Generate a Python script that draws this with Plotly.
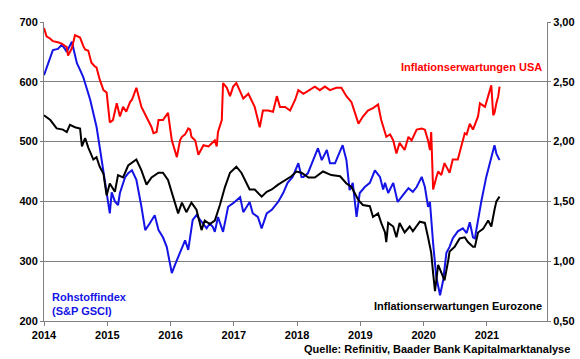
import plotly.graph_objects as go

# ---- data (decimal years) ----
blue_t = [2014.00, 2014.05, 2014.14, 2014.22, 2014.28, 2014.33, 2014.36, 2014.44, 2014.52, 2014.57,
          2014.62, 2014.73, 2014.83, 2014.88, 2014.94, 2014.99, 2015.04, 2015.07, 2015.12, 2015.17,
          2015.20, 2015.28, 2015.33, 2015.39, 2015.46, 2015.54, 2015.60, 2015.67, 2015.75, 2015.81,
          2015.88, 2015.94, 2016.02, 2016.07, 2016.15, 2016.23, 2016.28, 2016.35, 2016.41, 2016.52,
          2016.57, 2016.62, 2016.67, 2016.70, 2016.75, 2016.83, 2016.91, 2016.99, 2017.10, 2017.15,
          2017.25, 2017.30, 2017.38, 2017.44, 2017.52, 2017.60, 2017.70, 2017.78, 2017.85, 2017.93,
          2018.02, 2018.07, 2018.10, 2018.17, 2018.25, 2018.33, 2018.39, 2018.47, 2018.52, 2018.60,
          2018.64, 2018.72, 2018.78, 2018.83, 2018.88, 2018.94, 2018.99, 2019.07, 2019.15, 2019.23,
          2019.31, 2019.36, 2019.39, 2019.44, 2019.52, 2019.59, 2019.67, 2019.76, 2019.83, 2019.89,
          2019.97, 2020.02, 2020.07, 2020.10, 2020.15, 2020.18, 2020.20, 2020.26, 2020.31, 2020.36,
          2020.41, 2020.46, 2020.54, 2020.62, 2020.68, 2020.73, 2020.78, 2020.81, 2020.86, 2020.91,
          2020.99, 2021.05, 2021.12, 2021.15, 2021.18, 2021.20]
blue_v = [611, 625, 653, 655, 662, 655, 650, 667, 631, 620,
          608, 570, 525, 491, 447, 414, 380, 415, 400, 394,
          414, 440, 447, 452, 436, 391, 352, 363, 377, 352,
          340, 324, 280, 294, 314, 335, 319, 369, 377, 363,
          355, 363, 357, 349, 374, 349, 391, 397, 407, 382,
          399, 380, 374, 355, 380, 386, 399, 414, 431, 441,
          464, 441, 441, 447, 469, 489, 469, 486, 464, 464,
          474, 494, 469, 419, 431, 374, 414, 424, 431, 452,
          441, 420, 431, 414, 431, 399, 410, 422, 416, 424,
          441, 424, 391, 399, 330, 302, 274, 243, 269, 314,
          324, 338, 350, 355, 347, 365, 340, 338, 369, 399,
          441, 464, 494, 480, 474, 469]

usa_t = [2014.00, 2014.04, 2014.10, 2014.14, 2014.22, 2014.28, 2014.33, 2014.36, 2014.38, 2014.44,
         2014.49, 2014.54, 2014.57, 2014.62, 2014.65, 2014.70, 2014.75, 2014.80, 2014.83, 2014.88,
         2014.94, 2014.99, 2015.04, 2015.09, 2015.15, 2015.20, 2015.25, 2015.30, 2015.36, 2015.39,
         2015.46, 2015.54, 2015.62, 2015.70, 2015.73, 2015.78, 2015.81, 2015.88, 2015.96, 2016.02,
         2016.10, 2016.15, 2016.18, 2016.23, 2016.28, 2016.31, 2016.33, 2016.39, 2016.44, 2016.52,
         2016.60, 2016.70, 2016.73, 2016.75, 2016.81, 2016.83, 2016.89, 2016.94, 2016.99, 2017.04,
         2017.10, 2017.15, 2017.23, 2017.28, 2017.33, 2017.41, 2017.46, 2017.54, 2017.62, 2017.68,
         2017.73, 2017.81, 2017.89, 2017.97, 2018.02, 2018.10, 2018.20, 2018.28, 2018.36, 2018.44,
         2018.52, 2018.62, 2018.70, 2018.78, 2018.86, 2018.91, 2018.97, 2019.04, 2019.12, 2019.20,
         2019.28, 2019.33, 2019.41, 2019.47, 2019.52, 2019.57, 2019.62, 2019.70, 2019.76, 2019.81,
         2019.89, 2019.97, 2020.02, 2020.07, 2020.10, 2020.12, 2020.15, 2020.20, 2020.23, 2020.28,
         2020.33, 2020.41, 2020.46, 2020.54, 2020.60, 2020.65, 2020.68, 2020.73, 2020.78, 2020.86,
         2020.89, 2020.97, 2021.02, 2021.07, 2021.10, 2021.12, 2021.15, 2021.18, 2021.20]
usa_v = [2.95, 2.88, 2.86, 2.84, 2.83, 2.82, 2.80, 2.79, 2.72, 2.78,
         2.89, 2.88, 2.87, 2.80, 2.77, 2.76, 2.66, 2.63, 2.62, 2.52,
         2.43, 2.41, 2.16, 2.18, 2.32, 2.21, 2.29, 2.25, 2.33, 2.35,
         2.45, 2.29, 2.21, 2.12, 2.07, 2.08, 2.18, 2.18, 2.24, 2.01,
         1.87, 2.01, 2.04, 2.06, 2.11, 2.10, 2.04, 2.01, 1.89, 1.97,
         1.96, 2.01, 1.96, 2.08, 2.18, 2.49, 2.45, 2.38, 2.46, 2.49,
         2.42, 2.36, 2.40, 2.35, 2.29, 2.12, 2.26, 2.26, 2.25, 2.38,
         2.29, 2.29, 2.26, 2.35, 2.43, 2.40, 2.43, 2.46, 2.43, 2.46,
         2.43, 2.45, 2.45, 2.38, 2.33, 2.24, 2.15, 2.21, 2.26, 2.28,
         2.31, 2.18, 2.04, 2.06, 2.01, 1.90, 1.99, 1.93, 2.04, 2.01,
         2.10, 2.11, 2.10, 2.01, 1.93, 2.08, 1.60, 1.70, 1.75, 1.72,
         1.82, 1.74, 1.85, 1.85, 1.96, 2.07, 2.06, 2.15, 2.10, 2.21,
         2.32, 2.29, 2.38, 2.47, 2.22, 2.24, 2.32, 2.38, 2.46]

ez_t = [2014.00, 2014.10, 2014.20, 2014.30, 2014.36, 2014.41, 2014.49, 2014.57, 2014.60, 2014.65,
        2014.70, 2014.78, 2014.83, 2014.88, 2014.94, 2014.99, 2015.04, 2015.07, 2015.12, 2015.17,
        2015.25, 2015.33, 2015.39, 2015.46, 2015.54, 2015.62, 2015.70, 2015.81, 2015.88, 2015.96,
        2016.04, 2016.12, 2016.18, 2016.25, 2016.33, 2016.41, 2016.49, 2016.54, 2016.62, 2016.70,
        2016.78, 2016.86, 2016.94, 2017.04, 2017.12, 2017.20, 2017.25, 2017.33, 2017.44, 2017.52,
        2017.60, 2017.70, 2017.81, 2017.91, 2017.99, 2018.07, 2018.18, 2018.28, 2018.41, 2018.54,
        2018.68, 2018.78, 2018.86, 2018.97, 2019.04, 2019.15, 2019.20, 2019.28, 2019.33, 2019.39,
        2019.41, 2019.44, 2019.52, 2019.57, 2019.62, 2019.70, 2019.78, 2019.83, 2019.94, 2020.02,
        2020.07, 2020.12, 2020.15, 2020.18, 2020.23, 2020.28, 2020.33, 2020.39, 2020.41, 2020.49,
        2020.57, 2020.65, 2020.70, 2020.78, 2020.81, 2020.86, 2020.94, 2021.02, 2021.07, 2021.12,
        2021.15, 2021.20]
ez_v = [2.22, 2.18, 2.11, 2.10, 2.08, 2.14, 2.12, 2.11, 1.96, 2.03,
        1.95, 1.85, 1.87, 1.79, 1.73, 1.55, 1.65, 1.62, 1.58, 1.72,
        1.70, 1.80, 1.82, 1.85, 1.76, 1.64, 1.70, 1.74, 1.74, 1.68,
        1.54, 1.40, 1.49, 1.41, 1.49, 1.43, 1.26, 1.34, 1.31, 1.34,
        1.47, 1.62, 1.74, 1.79, 1.74, 1.65, 1.60, 1.60, 1.54, 1.58,
        1.60, 1.64, 1.68, 1.71, 1.75, 1.74, 1.70, 1.70, 1.75, 1.72,
        1.71, 1.65, 1.62, 1.51, 1.47, 1.46, 1.37, 1.40, 1.32, 1.24,
        1.16, 1.32, 1.29, 1.20, 1.32, 1.24, 1.29, 1.25, 1.33, 1.32,
        1.20, 1.07, 0.90, 0.75, 0.97, 0.90, 0.84, 1.01, 1.08, 1.12,
        1.19, 1.20, 1.16, 1.12, 1.12, 1.24, 1.27, 1.34, 1.29, 1.43,
        1.50, 1.54]

year_ticks = [2014, 2015, 2016, 2017, 2018, 2019, 2020, 2021]
left_ticks = [200, 300, 400, 500, 600, 700]
right_ticks = [0.5, 1.0, 1.5, 2.0, 2.5, 3.0]
right_labels = ["0,50", "1,00", "1,50", "2,00", "2,50", "3,00"]

FONT = "Liberation Sans"
GRID = "#808080"

fig = go.Figure()
fig.add_trace(go.Scatter(x=blue_t, y=blue_v, mode="lines", line=dict(color="#1414E6", width=2),
                         yaxis="y", showlegend=False))
fig.add_trace(go.Scatter(x=ez_t, y=ez_v, mode="lines", line=dict(color="#000000", width=2),
                         yaxis="y2", showlegend=False))
fig.add_trace(go.Scatter(x=usa_t, y=usa_v, mode="lines", line=dict(color="#FF0000", width=2),
                         yaxis="y2", showlegend=False))

tickfont = dict(family=FONT, size=11, color="#000000", weight="bold")

fig.update_layout(
    width=580, height=359,
    margin=dict(l=44, r=33, t=22, b=38),
    paper_bgcolor="white", plot_bgcolor="white",
    font=dict(family=FONT, size=11, color="#000000"),
    xaxis=dict(range=[2014, 2021.95], tickvals=year_ticks, ticktext=[str(y) for y in year_ticks],
               showgrid=False, zeroline=False, showline=True, linecolor=GRID, linewidth=1,
               ticks="outside", ticklen=4, tickcolor=GRID, automargin=False,
               tickfont=tickfont),
    yaxis=dict(range=[200, 700], tickvals=left_ticks, showgrid=True, gridcolor=GRID, gridwidth=1,
               zeroline=False, showline=True, linecolor=GRID, linewidth=1,
               ticks="outside", ticklen=3, tickcolor=GRID, automargin=False,
               tickfont=tickfont),
    yaxis2=dict(range=[0.5, 3.0], overlaying="y", side="right", tickvals=right_ticks,
                ticktext=right_labels, showgrid=False, zeroline=False, showline=True,
                linecolor=GRID, linewidth=1, ticks="outside", ticklen=3, tickcolor=GRID,
                automargin=False, tickfont=tickfont),
)

fig.add_annotation(x=2021.91, y=625, xref="x", yref="y", text="Inflationserwartungen USA",
                   showarrow=False, xanchor="right", yanchor="middle",
                   font=dict(family=FONT, size=11, color="#FF0000", weight="bold"))
fig.add_annotation(x=2014.095, y=229, xref="x", yref="y", text="Rohstoffindex<br>(S&P GSCI)",
                   showarrow=False, xanchor="left", yanchor="middle", align="left",
                   font=dict(family=FONT, size=11, color="#1414E6", weight="bold"))
fig.add_annotation(x=2021.91, y=225, xref="x", yref="y", text="Inflationserwartungen Eurozone",
                   showarrow=False, xanchor="right", yanchor="middle",
                   font=dict(family=FONT, size=11, color="#000000", weight="bold"))
fig.add_annotation(x=1.0, y=0, xref="paper", yref="paper", yshift=-20, xshift=25,
                   text="Quelle: Refinitiv, Baader Bank Kapitalmarktanalyse",
                   showarrow=False, xanchor="right", yanchor="top",
                   font=dict(family=FONT, size=11, color="#000000", weight="bold"))

fig.write_html("out.html", config={"displayModeBar": False},
               post_script="document.body.style.margin='0px';")
